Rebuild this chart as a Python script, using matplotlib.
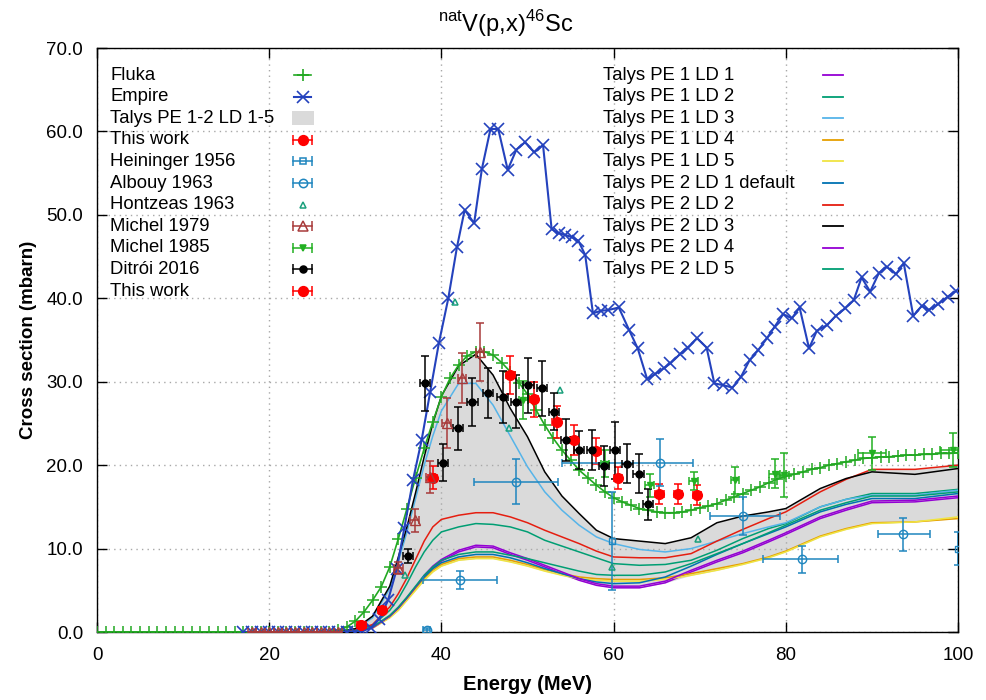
import numpy as np
import matplotlib
matplotlib.use("Agg")
import matplotlib.pyplot as plt

plt.rcParams['font.family'] = ['Liberation Sans', 'DejaVu Sans']

# ---- model curves ----
fluka_e = list(range(0, 101))
fluka_xs = [0, 0, 0, 0, 0, 0, 0, 0, 0, 0, 0, 0, 0, 0, 0, 0, 0, 0, 0, 0,
            0, 0, 0, 0, 0, 0, 0, 0, 0.2, 0.6, 1.3, 2.4, 3.8, 5.4, 7.8, 11.2, 14.8, 18.5, 22.0, 25.2,
            28.2, 30.4, 32.0, 33.1, 33.6, 33.6, 33.2, 32.3, 31.2, 29.9, 28.5, 26.6, 24.8, 23.2, 21.8, 20.6, 19.4, 18.5, 17.6, 16.8,
            16.1, 15.6, 15.2, 14.8, 14.6, 14.4, 14.3, 14.3, 14.4, 14.6, 14.9, 15.1, 15.4, 15.8, 16.2, 16.6, 17.0, 17.4, 17.9, 18.3,
            18.7, 18.9, 19.2, 19.5, 19.7, 20.0, 20.2, 20.4, 20.6, 20.8, 20.9, 21.0, 21.0, 21.1, 21.2, 21.2, 21.3, 21.3, 21.4, 21.4, 21.5]

empire_e = [17, 18, 19, 20, 21, 22, 23, 24, 25, 26, 27, 28, 29, 30, 30.8, 31.8, 32.8, 33.8, 34.8, 35.7,
            36.7, 37.7, 38.7, 39.7, 40.8, 41.8, 42.7, 43.8, 44.7, 45.7, 46.6, 47.7, 48.7, 49.7, 50.8, 51.8, 52.8, 53.6, 54.4, 55.2,
            55.9, 56.7, 57.6, 58.5, 59.4, 60.6, 61.8, 62.8, 63.9, 64.8, 65.8, 66.6, 67.7, 68.6, 69.7, 70.8, 71.7, 72.7, 73.8, 74.8,
            75.8, 76.8, 77.8, 78.7, 79.7, 80.7, 81.6, 82.7, 83.6, 84.8, 85.8, 86.9, 87.9, 88.8, 89.8, 90.8, 91.7, 92.8, 93.7, 94.8,
            95.8, 96.6, 97.7, 98.8, 99.8]
empire_xs = [0, 0, 0, 0, 0, 0, 0, 0, 0, 0, 0, 0, 0, 0, 0.1, 0.5, 1.6, 3.8, 7.5, 12.5,
             18.2, 23.0, 28.8, 34.6, 40.0, 46.1, 50.6, 49.0, 55.5, 60.3, 60.3, 55.4, 57.8, 58.7, 57.5, 58.4, 48.3, 47.8, 47.6, 47.3,
             46.9, 45.2, 38.2, 38.5, 38.6, 38.9, 36.2, 34.0, 30.3, 30.9, 31.6, 32.2, 33.3, 34.1, 35.2, 34.1, 29.8, 29.6, 29.3, 30.6,
             32.6, 33.8, 35.2, 36.6, 38.1, 37.6, 38.9, 34.0, 36.1, 36.8, 37.9, 38.8, 39.8, 42.5, 40.8, 43.0, 43.8, 42.9, 44.2, 37.9,
             39.1, 38.6, 39.3, 40.2, 40.9]

talys_e = [18, 28, 30, 32, 34, 35, 36, 37, 38, 39, 40, 42, 44, 46, 48, 50, 52, 54, 56, 58,
           60, 63, 66, 69, 72, 75, 78, 80, 84, 87, 90, 95, 100]
pe1_ld1 = [0, 0.02, 0.1, 0.5, 1.8, 2.8, 4.0, 5.3, 6.6, 7.7, 8.5, 9.6, 10.2, 10.1, 9.3, 8.6, 7.8, 7.0, 6.2, 5.6,
           5.3, 5.3, 5.9, 7.2, 8.4, 9.5, 10.8, 11.7, 13.6, 14.6, 15.5, 15.6, 16.1]
pe1_ld2 = [0, 0.02, 0.15, 0.8, 2.6, 4.0, 5.8, 7.8, 9.6, 11.0, 12.0, 12.6, 13.0, 12.9, 12.6, 12.0, 11.0, 10.3, 9.6, 8.9,
           8.2, 8.0, 8.1, 8.6, 9.8, 11.2, 12.4, 13.0, 15.0, 15.9, 16.6, 16.6, 17.1]
pe1_ld3 = [0, 0.05, 0.35, 1.7, 5.2, 8.5, 12.0, 16.0, 20.0, 23.5, 26.5, 29.8, 29.8, 27.2, 23.5, 19.8, 16.8, 14.6, 12.8, 11.4,
           10.6, 9.9, 9.6, 10.0, 10.9, 11.8, 12.6, 13.1, 15.0, 15.9, 16.4, 16.4, 17.0]
pe1_ld4 = [0, 0.02, 0.1, 0.5, 1.8, 2.7, 3.9, 5.2, 6.4, 7.4, 8.1, 8.8, 9.0, 9.0, 8.6, 8.1, 7.5, 7.0, 6.6, 6.4,
           6.3, 6.3, 6.5, 7.0, 7.6, 8.2, 9.0, 9.7, 11.5, 12.4, 13.1, 13.2, 13.6]
pe1_ld5 = [0, 0.02, 0.1, 0.45, 1.7, 2.6, 3.8, 5.0, 6.2, 7.2, 7.9, 8.6, 8.8, 8.8, 8.4, 7.9, 7.3, 6.8, 6.4, 6.2,
           6.1, 6.1, 6.3, 6.8, 7.4, 8.1, 8.9, 9.6, 11.4, 12.3, 13.0, 13.2, 13.8]
pe2_ld1 = [0, 0.02, 0.1, 0.55, 1.9, 2.9, 4.1, 5.4, 6.6, 7.6, 8.3, 9.0, 9.3, 9.3, 8.9, 8.3, 7.6, 7.0, 6.4, 6.0,
           5.8, 5.9, 6.6, 7.9, 9.3, 10.6, 11.8, 12.6, 14.4, 15.3, 16.0, 16.0, 16.6]
pe2_ld2 = [0, 0.03, 0.2, 0.9, 3.0, 4.6, 6.5, 8.7, 10.9, 12.6, 13.5, 14.0, 14.3, 14.3, 13.8, 13.1, 12.2, 11.4, 10.6, 9.7,
           9.0, 8.9, 8.9, 9.4, 10.9, 12.3, 13.6, 14.4, 16.8, 18.3, 19.5, 19.5, 20.0]
pe2_ld3 = [0, 0.05, 0.4, 1.9, 5.5, 9.0, 12.6, 16.7, 21.0, 25.0, 28.3, 31.9, 33.3, 30.8, 26.8, 23.4, 19.2, 16.3, 14.2, 12.2,
           11.2, 10.9, 10.6, 11.3, 13.1, 13.9, 14.4, 14.8, 17.2, 18.4, 19.2, 18.9, 19.6]
pe2_ld4 = [0, 0.02, 0.1, 0.5, 1.9, 2.9, 4.1, 5.4, 6.8, 7.9, 8.7, 9.8, 10.4, 10.3, 9.5, 8.8, 8.0, 7.2, 6.4, 5.8,
           5.5, 5.5, 6.1, 7.4, 8.6, 9.7, 11.0, 11.9, 13.8, 14.8, 15.7, 15.8, 16.3]
pe2_ld5 = [0, 0.02, 0.1, 0.6, 2.0, 3.0, 4.2, 5.5, 6.8, 7.8, 8.6, 9.3, 9.6, 9.6, 9.2, 8.8, 8.3, 7.8, 7.3, 6.9,
           6.8, 6.8, 7.2, 8.2, 9.4, 10.6, 11.9, 12.8, 14.6, 15.5, 16.3, 16.3, 16.8]

talys_labels = ['Talys PE 1 LD 1', 'Talys PE 1 LD 2', 'Talys PE 1 LD 3', 'Talys PE 1 LD 4', 'Talys PE 1 LD 5',
                'Talys PE 2 LD 1 default', 'Talys PE 2 LD 2', 'Talys PE 2 LD 3', 'Talys PE 2 LD 4', 'Talys PE 2 LD 5']
talys_colors = ['#9400d3', '#009e73', '#56b4e9', '#e69f00', '#f0e442',
                '#0072b2', '#e51e10', '#000000', '#9400d3', '#009e73']
talys_sets = [pe1_ld1, pe1_ld2, pe1_ld3, pe1_ld4, pe1_ld5, pe2_ld1, pe2_ld2, pe2_ld3, pe2_ld4, pe2_ld5]

# ---- experimental data ----
thiswork_e = [30.7, 33.1, 39.0, 48.0, 50.7, 53.4, 55.4, 58.0, 60.5, 65.3, 67.5, 69.7]
thiswork_xs = [0.8, 2.6, 18.5, 30.8, 27.9, 25.2, 23.0, 21.7, 18.5, 16.5, 16.5, 16.4]
thiswork_dxs = [0.2, 0.4, 1.4, 2.3, 2.1, 1.9, 1.8, 1.5, 1.3, 1.2, 1.2, 1.2]

heininger_e = [59.8, 100.0]
heininger_xs = [10.9, 10.0]
heininger_dxs = [5.9, 2.0]

albouy_e = [38.3, 42.2, 48.7, 65.4, 75.0, 81.9, 93.6]
albouy_xs = [0.2, 6.2, 18.0, 20.3, 13.9, 8.7, 11.7]
albouy_de_lo = [0.4, 4.3, 4.9, 11.4, 3.8, 4.5, 2.9]
albouy_de_hi = [0.4, 4.3, 4.8, 3.8, 4.3, 4.2, 3.1]
albouy_dxs = [0.3, 1.1, 2.7, 2.8, 2.3, 1.6, 2.0]

hontzeas_e = [35.8, 41.6, 47.8, 53.8, 59.8, 69.8]
hontzeas_xs = [6.8, 39.6, 24.4, 29.0, 7.8, 11.2]

michel79_e = [18, 19, 20, 21, 22, 23, 24, 25, 26, 27, 28, 35.0, 36.9, 38.7, 40.6, 42.4, 44.5]
michel79_xs = [0, 0, 0, 0, 0, 0, 0, 0, 0, 0, 0, 7.7, 13.4, 18.6, 25.0, 30.4, 33.6]
michel79_dxs = [0, 0, 0, 0, 0, 0, 0, 0, 0, 0, 0, 0.7, 1.4, 1.9, 3.0, 3.0, 3.5]

michel85_e = [49.5, 59.0, 64.2, 69.3, 74.1, 78.7, 79.8, 90.0, 99.4]
michel85_xs = [27.8, 20.2, 17.6, 18.1, 18.2, 19.0, 18.8, 21.4, 21.8]
michel85_de = [0.5, 0.5, 0.5, 0.5, 0.5, 0.6, 0.6, 1.6, 1.5]
michel85_dxs = [2.3, 1.6, 1.4, 1.1, 1.6, 1.7, 2.6, 2.0, 2.0]

ditroi_e = [36.1, 38.1, 40.2, 41.9, 43.6, 45.4, 47.1, 48.7, 50.1, 51.7, 53.1, 54.5, 56.0, 57.5, 58.9,
            60.2, 61.6, 62.9, 64.0]
ditroi_xs = [9.1, 29.8, 20.3, 24.4, 27.6, 28.6, 28.2, 27.6, 29.6, 29.2, 26.4, 23.0, 21.8, 21.8, 19.9,
             21.8, 20.2, 19.0, 15.3]
ditroi_dxs = [0.8, 3.3, 2.2, 2.6, 2.9, 3.0, 3.1, 3.2, 3.3, 3.3, 2.2, 2.5, 2.3, 2.4, 2.4,
              3.4, 2.3, 2.3, 1.9]

c_fluka = '#22a822'
c_empire = '#2442bd'
c_red = '#ff0000'
c_blue = '#1f86bf'
c_hontz = '#1aa07c'
c_brown = '#a83a3a'
c_m85 = '#22b022'

fig = plt.figure(figsize=(9.86, 7.0), dpi=100)
ax = fig.add_axes([0.0984, 0.0971, 0.8732, 0.8343])

# Talys band and curves
talys_arr = np.array(talys_sets)
ax.fill_between(talys_e, talys_arr.min(axis=0), talys_arr.max(axis=0),
                color='#dadada', lw=0, zorder=1)
for vals, col in zip(talys_sets, talys_colors):
    ax.plot(talys_e, vals, color=col, lw=1.1, zorder=3)

ax.plot(fluka_e, fluka_xs, color=c_fluka, lw=1.2, marker='+', ms=8, mew=1.1, zorder=4)
ax.plot(empire_e, empire_xs, color=c_empire, lw=1.5, marker='x', ms=8, mew=1.2, zorder=4)

eb = dict(ls='none', capsize=3, elinewidth=1.1, capthick=1.1, zorder=5)
ax.errorbar(thiswork_e, thiswork_xs, yerr=thiswork_dxs, xerr=0.5, color=c_red, marker='o', ms=7, **eb)
ax.errorbar(heininger_e, heininger_xs, yerr=heininger_dxs, color=c_blue, marker='s', ms=5,
            mfc='none', **eb)
ax.errorbar(albouy_e, albouy_xs, yerr=albouy_dxs, xerr=[albouy_de_lo, albouy_de_hi], color=c_blue,
            marker='o', ms=6, mfc='none', **eb)
ax.plot(hontzeas_e, hontzeas_xs, ls='none', marker='^', ms=5, mfc='none', mec=c_hontz, mew=1.1, zorder=5)
ax.errorbar(michel79_e, michel79_xs, yerr=michel79_dxs, xerr=0.5, color=c_brown, marker='^', ms=7,
            mfc='none', **eb)
ax.errorbar(michel85_e, michel85_xs, yerr=michel85_dxs, xerr=michel85_de, color=c_m85, marker='v', ms=5,
            **eb)
ax.errorbar(ditroi_e, ditroi_xs, yerr=ditroi_dxs, xerr=0.6, color='black', marker='o', ms=5, **eb)

# axes styling
ax.set_xlim(0, 100)
ax.set_ylim(0, 70)
ax.set_xticks([0, 20, 40, 60, 80, 100])
ax.set_yticks(np.arange(0, 71, 10))
ax.set_yticklabels(['%.1f' % v for v in np.arange(0, 71, 10)])
ax.tick_params(direction='in', length=7, width=1, top=True, right=True, labelsize=13.5)
ax.tick_params(axis='x', pad=11)
ax.tick_params(axis='y', pad=10)
ax.set_axisbelow('line')
ax.grid(True, color='#a8a8a8', ls=(0, (1, 3)), lw=1)
for s in ax.spines.values():
    s.set_linewidth(1)
ax.set_xlabel('Energy (MeV)', fontsize=14.5, fontweight='bold', labelpad=8)
ax.set_ylabel('Cross section (mbarn)', fontsize=13.5, fontweight='bold', labelpad=7)
fig.text(0.513, 0.966, r'$^{\mathregular{nat}}$V(p,x)$^{\mathregular{46}}$Sc', fontsize=17,
         ha='center', va='center')

# ---- key (gnuplot style: text left, sample right) ----
y0, dy = 0.9538, 0.0370
lx, mx = 0.0151, 0.239
tr = ax.transAxes


def err_sample(x, y, col, marker, ms, mfc):
    ax.plot([x - 0.011, x + 0.011], [y, y], color=col, lw=1.1, transform=tr, clip_on=False, zorder=6)
    ax.plot([x - 0.011, x + 0.011], [y, y], ls='none', marker='|', ms=7, mew=1.1, color=col,
            transform=tr, clip_on=False, zorder=6)
    ax.plot([x], [y], ls='none', marker=marker, ms=ms, mfc=mfc, mec=col, mew=1.1, color=col,
            transform=tr, clip_on=False, zorder=6)


left_keys = ['Fluka', 'Empire', 'Talys PE 1-2 LD 1-5', 'This work', 'Heininger 1956', 'Albouy 1963',
             'Hontzeas 1963', 'Michel 1979', 'Michel 1985', 'Ditrói 2016', 'This work']
for i, lab in enumerate(left_keys):
    y = y0 - i * dy
    ax.text(lx, y, lab, transform=tr, fontsize=13.3, va='center', ha='left', zorder=7)
    if lab == 'Fluka':
        ax.plot([mx - 0.01, mx + 0.01], [y, y], color=c_fluka, lw=1.2, transform=tr, zorder=6)
        ax.plot([mx], [y], marker='+', ms=9, mew=1.2, color=c_fluka, transform=tr, zorder=6)
    elif lab == 'Empire':
        ax.plot([mx - 0.01, mx + 0.01], [y, y], color=c_empire, lw=1.5, transform=tr, zorder=6)
        ax.plot([mx], [y], marker='x', ms=8, mew=1.2, color=c_empire, transform=tr, zorder=6)
    elif lab.startswith('Talys'):
        ax.add_patch(plt.Rectangle((mx - 0.013, y - 0.012), 0.026, 0.024, transform=tr,
                                   color='#dadada', lw=0, zorder=6))
    elif lab == 'This work':
        err_sample(mx, y, c_red, 'o', 7, c_red)
    elif lab.startswith('Heininger'):
        err_sample(mx, y, c_blue, 's', 5, 'none')
    elif lab.startswith('Albouy'):
        err_sample(mx, y, c_blue, 'o', 6, 'none')
    elif lab.startswith('Hontzeas'):
        ax.plot([mx], [y], marker='^', ms=5, mfc='none', mec=c_hontz, mew=1.1, transform=tr, zorder=6)
    elif lab.startswith('Michel 1979'):
        err_sample(mx, y, c_brown, '^', 7, 'none')
    elif lab.startswith('Michel 1985'):
        err_sample(mx, y, c_m85, 'v', 5, c_m85)
    else:
        err_sample(mx, y, 'black', 'o', 5, 'black')

rx = 0.588
for i, (lab, col) in enumerate(zip(talys_labels, talys_colors)):
    y = y0 - i * dy
    ax.text(rx, y, lab, transform=tr, fontsize=13.3, va='center', ha='left', zorder=7)
    ax.plot([0.843, 0.866], [y, y], color=col, lw=1.3, transform=tr, zorder=6)

fig.savefig('out.png', dpi=100)
